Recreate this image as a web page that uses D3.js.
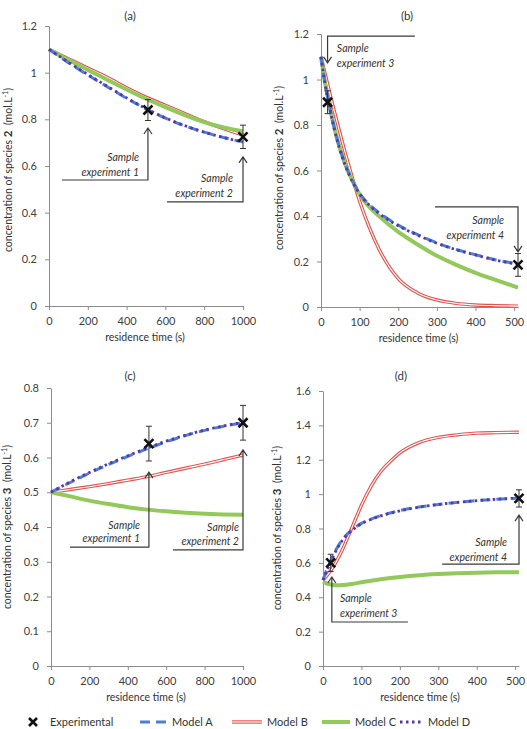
<!DOCTYPE html>
<html>
<head>
<meta charset="utf-8">
<script src="https://cdn.jsdelivr.net/npm/d3@7"></script>
<style>
body { margin: 0; background: #fff; }
svg { font-family: Lato, "Open Sans", sans-serif; }
.axis path, .axis line { stroke: #8c8c8c; }
.axis text { fill: #404040; font-size: 11px; font-family: Lato, sans-serif; }
</style>
</head>
<body>
<div id="chart"></div>
<script>
var width = 527,
    height = 729;

// (a) species 2, long runs
var timeA = [0, 100, 200, 300, 400, 500, 600, 700, 800, 900, 1000];
var aModelA = [1.1, 1.043, 0.99, 0.94, 0.89, 0.845, 0.805, 0.772, 0.745, 0.722, 0.703];
var aModelB = [1.1, 1.06, 1.02, 0.98, 0.935, 0.895, 0.86, 0.825, 0.79, 0.76, 0.733];
var aModelC = [1.1, 1.055, 1.012, 0.97, 0.928, 0.888, 0.852, 0.818, 0.788, 0.765, 0.748];
var aModelD = [1.1, 1.045, 0.992, 0.942, 0.892, 0.846, 0.806, 0.773, 0.745, 0.722, 0.703];
var aExpTime = [510, 1000];
var aExpConc = [0.84, 0.725];
var aExpErr = [0.045, 0.05];

// (b) species 2, short runs
var timeB = [0, 10, 20, 30, 40, 60, 80, 100, 125, 150, 200, 250, 300, 350, 400, 450, 510];
var bModelA = [1.1, 0.99, 0.9, 0.82, 0.75, 0.64, 0.56, 0.5, 0.45, 0.415, 0.36, 0.318, 0.282, 0.253, 0.23, 0.208, 0.19];
var bModelB = [1.1, 1.03, 0.96, 0.89, 0.825, 0.695, 0.575, 0.465, 0.35, 0.255, 0.125, 0.062, 0.031, 0.016, 0.009, 0.006, 0.004];
var bModelC = [1.1, 0.99, 0.9, 0.82, 0.75, 0.64, 0.56, 0.495, 0.44, 0.4, 0.33, 0.275, 0.225, 0.185, 0.15, 0.12, 0.085];
var bModelD = [1.1, 0.985, 0.895, 0.815, 0.745, 0.635, 0.555, 0.497, 0.447, 0.412, 0.357, 0.316, 0.28, 0.252, 0.229, 0.207, 0.188];
var bExpTime = [17, 510];
var bExpConc = [0.9, 0.185];
var bExpErr = [0.05, 0.05];

// (c) species 3, long runs
var timeC = [0, 100, 200, 300, 400, 500, 600, 700, 800, 900, 1000];
var cModelA = [0.5, 0.528, 0.555, 0.58, 0.603, 0.625, 0.645, 0.663, 0.678, 0.69, 0.7];
var cModelB = [0.5, 0.508, 0.516, 0.525, 0.535, 0.545, 0.557, 0.569, 0.581, 0.594, 0.607];
var cModelC = [0.5, 0.488, 0.476, 0.466, 0.457, 0.45, 0.445, 0.441, 0.438, 0.436, 0.435];
var cModelD = [0.5, 0.53, 0.557, 0.582, 0.605, 0.627, 0.647, 0.664, 0.679, 0.691, 0.701];
var cExpTime = [510, 1000];
var cExpConc = [0.64, 0.7];
var cExpErr = [0.05, 0.05];

// (d) species 3, short runs
var timeD = [0, 10, 20, 30, 40, 50, 60, 80, 100, 125, 150, 175, 200, 250, 300, 350, 400, 450, 510];
var dModelA = [0.5, 0.56, 0.61, 0.66, 0.7, 0.735, 0.76, 0.8, 0.83, 0.855, 0.875, 0.89, 0.905, 0.925, 0.94, 0.952, 0.962, 0.97, 0.977];
var dModelB = [0.5, 0.525, 0.555, 0.59, 0.63, 0.675, 0.725, 0.83, 0.935, 1.045, 1.13, 1.19, 1.24, 1.3, 1.33, 1.345, 1.355, 1.358, 1.36];
var dModelC = [0.49, 0.48, 0.474, 0.47, 0.47, 0.471, 0.473, 0.479, 0.487, 0.496, 0.505, 0.512, 0.518, 0.528, 0.535, 0.54, 0.543, 0.545, 0.546];
var dModelD = [0.5, 0.555, 0.605, 0.655, 0.695, 0.73, 0.757, 0.797, 0.828, 0.853, 0.873, 0.889, 0.903, 0.924, 0.94, 0.952, 0.962, 0.97, 0.977];
var dExpTime = [20, 510];
var dExpConc = [0.6, 0.975];
var dExpErr = [0.05, 0.05];

var longTicks = [0, 200, 400, 600, 800, 1000],
    shortTicks = [0, 100, 200, 300, 400, 500];

var modelNames = ["Model A", "Model B", "Model C", "Model D"];

var svg = d3.select("#chart")
    .append("svg")
    .attr("width", width)
    .attr("height", height);

var panels = [
    {title: "(a)", species: "2", left: 49, right: 243, top: 26, bottom: 306, xMax: 1000, yMax: 1.2, yStep: 0.2,
     xTicks: longTicks, time: timeA, models: [aModelA, aModelB, aModelC, aModelD],
     expTime: aExpTime, expConc: aExpConc, expErr: aExpErr, labelX: 12, labelY: 170, titleX: 130, titleY: 20,
     notes: [
         {n: 1, x: 510, tip: 0.763, base: 0.54, hx: 67, tx: 464, anchor: "end", ty: [0.621, 0.557]},
         {n: 2, x: 1000, tip: 0.639, base: 0.446, hx: 608, tx: 948, anchor: "end", ty: [0.531, 0.467]}
     ]},
    {title: "(b)", species: "2", left: 321, right: 518, top: 34, bottom: 307, xMax: 510, yMax: 1.2, yStep: 0.2,
     xTicks: shortTicks, time: timeB, models: [bModelA, bModelB, bModelC, bModelD],
     expTime: bExpTime, expConc: bExpConc, expErr: bExpErr, labelX: 283, labelY: 168, titleX: 407, titleY: 20,
     notes: [
         {n: 3, x: 17, tip: 1.073, base: 1.191, hx: 243, tx: 41, anchor: "start", ty: [1.121, 1.055]},
         {n: 4, x: 510, tip: 0.242, base: 0.44, hx: 295, tx: 474, anchor: "end", ty: [0.365, 0.299]}
     ]},
    {title: "(c)", species: "3", left: 51, right: 243, top: 388, bottom: 666, xMax: 1000, yMax: 0.8, yStep: 0.1,
     xTicks: longTicks, time: timeC, models: [cModelA, cModelB, cModelC, cModelD],
     expTime: cExpTime, expConc: cExpConc, expErr: cExpErr, labelX: 11, labelY: 527, titleX: 130, titleY: 380,
     notes: [
         {n: 1, x: 510, tip: 0.558, base: 0.342, hx: 99, tx: 464, anchor: "end", ty: [0.394, 0.357]},
         {n: 2, x: 1000, tip: 0.622, base: 0.334, hx: 635, tx: 979, anchor: "end", ty: [0.388, 0.348]}
     ]},
    {title: "(d)", species: "3", left: 323, right: 519, top: 391, bottom: 666, xMax: 510, yMax: 1.6, yStep: 0.2,
     xTicks: shortTicks, time: timeD, models: [dModelA, dModelB, dModelC, dModelD],
     expTime: dExpTime, expConc: dExpConc, expErr: dExpErr, labelX: 281, labelY: 528, titleX: 401, titleY: 380,
     notes: [
         {n: 3, x: 23, tip: 0.518, base: 0.256, hx: 221, tx: 44, anchor: "start", ty: [0.372, 0.285]},
         {n: 4, x: 510, tip: 0.878, base: 0.593, hx: 310, tx: 479, anchor: "end", ty: [0.698, 0.611]}
     ]}
];

// line styles per model
function styleModel(sel, i) {
    if (i === 0) {
        sel.attr("stroke", "#4a7fd8").attr("stroke-width", 3).attr("stroke-dasharray", "10,6");
    } else if (i === 2) {
        sel.attr("stroke", "#93c95a").attr("stroke-width", 4);
    } else if (i === 3) {
        sel.attr("stroke", "#5a36a6").attr("stroke-width", 2.8).attr("stroke-dasharray", "2.5,3.5");
    }
}

function drawRed(g, d) {
    g.append("path").attr("d", d).attr("fill", "none").attr("stroke", "#e2544f").attr("stroke-width", 3.4);
    g.append("path").attr("d", d).attr("fill", "none").attr("stroke", "#fff").attr("stroke-width", 1.1);
}

function drawCross(g, cx, cy, r) {
    g.append("path")
        .attr("d", "M" + (cx - r) + "," + (cy - r) + "L" + (cx + r) + "," + (cy + r) +
                   "M" + (cx - r) + "," + (cy + r) + "L" + (cx + r) + "," + (cy - r))
        .attr("stroke", "#111")
        .attr("stroke-width", 2.6)
        .attr("fill", "none");
}

panels.forEach(function (p) {
    var x = d3.scaleLinear().domain([0, p.xMax]).range([p.left, p.right]);
    var y = d3.scaleLinear().domain([0, p.yMax]).range([p.bottom, p.top]);
    var yTicks = d3.range(0, p.yMax + p.yStep / 2, p.yStep).map(function (v) { return +v.toFixed(2); });

    var g = svg.append("g");

    g.append("g")
        .attr("class", "axis")
        .attr("transform", "translate(0," + p.bottom + ")")
        .call(d3.axisBottom(x).tickValues(p.xTicks).tickSize(4).tickSizeOuter(0).tickPadding(7)
            .tickFormat(d3.format("d")));

    g.append("g")
        .attr("class", "axis")
        .attr("transform", "translate(" + p.left + ",0)")
        .call(d3.axisLeft(y).tickValues(yTicks).tickSize(4).tickSizeOuter(0).tickPadding(8)
            .tickFormat(d3.format("~g")));

    // titles and axis labels
    g.append("text")
        .attr("x", p.titleX).attr("y", p.titleY)
        .attr("text-anchor", "middle")
        .attr("font-size", 11.5).attr("fill", "#333")
        .text(p.title);

    g.append("text")
        .attr("x", (p.left + p.right) / 2 - 1)
        .attr("y", p.bottom + 35)
        .attr("text-anchor", "middle")
        .attr("font-size", 10.5).attr("fill", "#333")
        .text("residence time (s)");

    var lab = g.append("text")
        .attr("transform", "translate(" + p.labelX + "," + p.labelY + ") rotate(-90)")
        .attr("text-anchor", "middle")
        .attr("font-size", 10.5).attr("fill", "#333");
    lab.append("tspan").text("concentration of species ");
    lab.append("tspan").attr("font-weight", "bold").attr("font-size", 11.5).text(p.species);
    lab.append("tspan").text("\u00a0 (mol.L");
    lab.append("tspan").attr("font-size", 7).attr("dy", -4).text("-1");
    lab.append("tspan").attr("dy", 4).text(")");

    // model curves
    var line = d3.line().curve(d3.curveMonotoneX);
    var pts = p.models.map(function (m) {
        return line(p.time.map(function (t, i) { return [x(t), y(m[i])]; }));
    });

    drawRed(g, pts[1]);
    [2, 0, 3].forEach(function (i) {
        g.append("path")
            .attr("d", pts[i])
            .attr("fill", "none")
            .call(styleModel, i);
    });

    // annotations
    p.notes.forEach(function (n) {
        var ax = x(n.x), yt = y(n.tip), yb = y(n.base);
        var dir = yt < yb ? 1 : -1;
        g.append("path")
            .attr("d", "M" + x(n.hx) + "," + yb + "L" + ax + "," + yb + "L" + ax + "," + yt +
                       "M" + (ax - 4) + "," + (yt + dir * 6) + "L" + ax + "," + yt + "L" + (ax + 4) + "," + (yt + dir * 6))
            .attr("fill", "none")
            .attr("stroke", "#3a3a3a")
            .attr("stroke-width", 1.2);
        ["Sample", "experiment " + n.n].forEach(function (s, k) {
            g.append("text")
                .attr("x", x(n.tx)).attr("y", y(n.ty[k]))
                .attr("text-anchor", n.anchor)
                .attr("font-size", 10.5).attr("font-style", "italic").attr("fill", "#333")
                .text(s);
        });
    });

    // experimental points with error bars
    p.expTime.forEach(function (t, i) {
        var cx = x(t), c = p.expConc[i], e = p.expErr[i];
        g.append("path")
            .attr("d", "M" + cx + "," + y(c - e) + "L" + cx + "," + y(c + e) +
                       "M" + (cx - 3) + "," + y(c - e) + "L" + (cx + 3) + "," + y(c - e) +
                       "M" + (cx - 3) + "," + y(c + e) + "L" + (cx + 3) + "," + y(c + e))
            .attr("stroke", "#333").attr("stroke-width", 1).attr("fill", "none");
        drawCross(g, cx, y(c), 4.5);
    });
});

// legend along the bottom edge
var leg = svg.append("g").attr("font-size", 11).attr("fill", "#333");
var ly = 722;
drawCross(leg, 33, ly, 4);
leg.append("text").attr("x", 50).attr("y", ly + 4).text("Experimental");
var legItems = [
    {i: 0, x1: 140, x2: 166, tx: 172},
    {i: 1, x1: 232, x2: 262, tx: 267},
    {i: 2, x1: 322, x2: 350, tx: 355},
    {i: 3, x1: 400, x2: 424, tx: 428}
];
legItems.forEach(function (d) {
    var seg = "M" + d.x1 + "," + ly + "L" + d.x2 + "," + ly;
    if (d.i === 1) {
        drawRed(leg, seg);
    } else {
        leg.append("path").attr("d", seg).attr("fill", "none").call(styleModel, d.i);
    }
    leg.append("text").attr("x", d.tx).attr("y", ly + 4).text(modelNames[d.i]);
});
</script>
</body>
</html>
